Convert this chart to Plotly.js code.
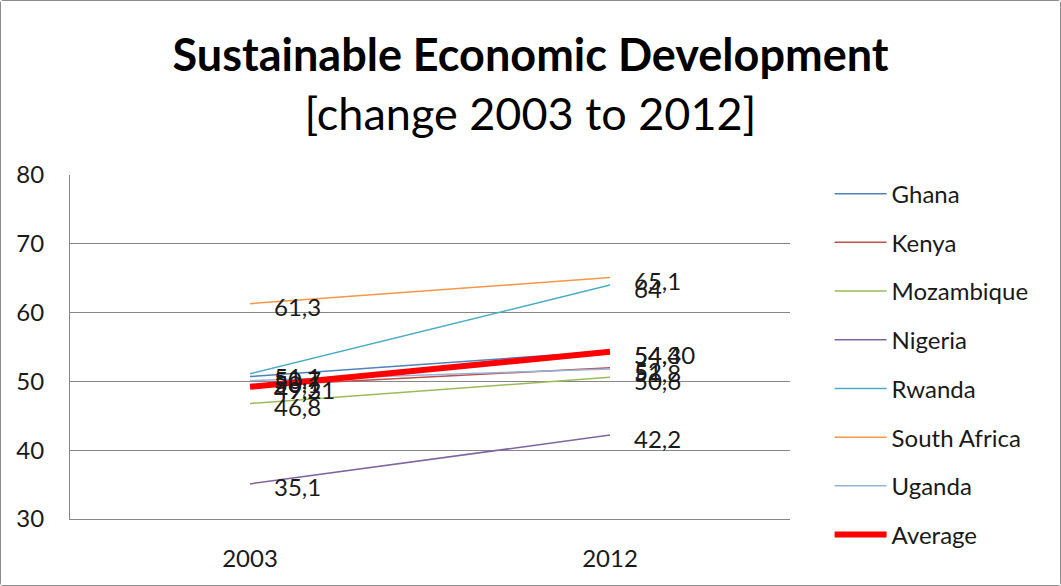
<!DOCTYPE html>
<html><head><meta charset="utf-8">
<script src="https://cdn.plot.ly/plotly-3.0.1.min.js"></script>
<style>html,body{margin:0;padding:0;background:#fff}#c{width:1059px;height:584px;border:1px solid #8c8c8c;border-radius:3px}</style>
</head><body><div id="c"></div>
<script>
const years = ["2003","2012"];
const countries = ["Ghana","Kenya","Mozambique","Nigeria","Rwanda","South Africa","Uganda"];
const ghana = [50.7, 54.4];
const kenya = [49.3, 52.0];
const mozambique = [46.8, 50.6];
const nigeria = [35.1, 42.2];
const rwanda = [51.1, 64.0];
const southAfrica = [61.3, 65.1];
const uganda = [50.1, 51.8];
const average = [49.21, 54.30];
const colors = ["#4F81BD","#C0504D","#9BBB59","#8064A2","#4BACC6","#F79646","#95B3D7"];

const series = [ghana,kenya,mozambique,nigeria,rwanda,southAfrica,uganda];
const FONT = "Lato, 'Open Sans', sans-serif";
const fmt = (v,d)=> (d? v.toFixed(d) : String(Math.round(v*10)/10)).replace('.',',');

const traces = series.map((s,i)=>({
  x: years, y: s, name: countries[i], type:'scatter', mode:'lines',
  line:{color:colors[i], width:1.5}, legendgroup:'g'+i, hoverinfo:'skip'
}));
traces.push({x:years, y:average, name:'Average', type:'scatter', mode:'lines',
  line:{color:'#FF0000', width:6}, legendgroup:'avg', hoverinfo:'skip'});

const annotations = [];
const lab = (xi, v, txt)=>({x:xi, y:v, xref:'x', yref:'y', text:txt, showarrow:false,
    xanchor:'left', yanchor:'middle', xshift:22, yshift:-3, font:{family:FONT,size:24,color:'#1a1a1a'}});
series.forEach((s,i)=>{ s.forEach((v,j)=>{ annotations.push(lab(j, v, fmt(v))); }); });
average.forEach((v,j)=>{ annotations.push(lab(j, v, fmt(v,2))); });

const layout = {
  width:1059, height:584,
  margin:{l:69, r:270, t:174, b:66},
  paper_bgcolor:'#fff', plot_bgcolor:'#fff',
  font:{family:FONT, size:24, color:'#1a1a1a'},
  title:{text:"<b>Sustainable Economic Development</b><br><span style='font-weight:normal'>[change 2003 to 2012]</span>",
    x:0.5, xref:'container', y:0.88, yref:'container', yanchor:'top',
    font:{family:FONT, size:45, color:'#000'}},
  xaxis:{type:'category', range:[-0.5,1.5], showgrid:false, showline:true, linecolor:'#868686', linewidth:1,
    ticks:'', ticklabelstandoff:18, tickfont:{size:24,family:FONT,color:'#1a1a1a'}, fixedrange:true},
  yaxis:{range:[30,80], dtick:10, showgrid:true, gridcolor:'#868686', gridwidth:1, showline:true, linecolor:'#868686',
    ticks:'', ticklabelstandoff:20, tickfont:{size:24,family:FONT,color:'#1a1a1a'}, zeroline:false, fixedrange:true},
  showlegend:true,
  legend:{x:1.055, xanchor:'left', y:1.01, yanchor:'top', traceorder:'grouped', tracegroupgap:14.5, maxheight:560,
    itemwidth:52, font:{family:FONT, size:24, color:'#1a1a1a'}, bgcolor:'rgba(0,0,0,0)'},
  annotations: annotations
};
Plotly.newPlot('c', traces, layout, {staticPlot:true, displayModeBar:false});
</script></body></html>
